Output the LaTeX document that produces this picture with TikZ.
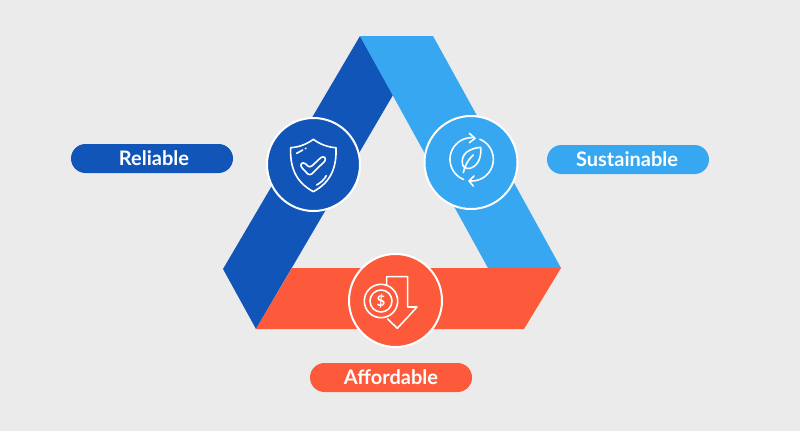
\documentclass[tikz,border=0pt]{standalone}
\usepackage{fontspec}
\setmainfont{Lato}[BoldFont=Lato Bold]
\definecolor{bgc}{HTML}{EBEBEB}
\definecolor{dkb}{HTML}{1155B8}
\definecolor{ltb}{HTML}{36A7F0}
\definecolor{org}{HTML}{FC5A3A}
\tikzset{
  hub/.style={circle,draw=white,line width=2pt,minimum size=93pt,inner sep=0pt},
  pill/.style={rectangle,rounded corners=14.5pt,minimum width=162pt,minimum height=29pt,inner sep=0pt,text=white,font=\fontsize{20}{22}\selectfont\bfseries},
  ico/.style={draw=white,line width=1.6pt,line cap=round,line join=round},
  zoomed/.style={x=0.3333pt,y=-0.3333pt}
}
\begin{document}
\begin{tikzpicture}[x=1pt,y=-1pt]
\fill[bgc] (0,0) rectangle (800,431);
\useasboundingbox (0,0) rectangle (800,431);
% bands
\fill[dkb] (360,36) -- (223,269) -- (256,329) -- (393,95) -- cycle;
\fill[ltb] (360,36) -- (433,36) -- (561,268) -- (488,268) -- cycle;
\fill[org] (292,268) -- (561,268) -- (524,329) -- (256,329) -- cycle;
% hubs
\node[hub,fill=dkb] (hubR) at (313.5,164.5) {};
\node[hub,fill=ltb] (hubS) at (471,162.5) {};
\node[hub,fill=org] (hubA) at (395.5,300.5) {};
% pills
\node[pill,fill=dkb] (pillR) at (152,158.5) {\hspace*{4pt}Reliable};
\node[pill,fill=ltb] (pillS) at (628,159.5) {Sustainable\hspace*{2pt}};
\node[pill,fill=org] (pillA) at (391,377.5) {Affordable};
% shield icon
\begin{scope}[shift={(250,100)},zoomed]
\draw[ico] (190,118) .. controls (170,133) and (145,142) .. (122,143)
  .. controls (120,200) and (135,245) .. (190,275)
  .. controls (245,245) and (260,200) .. (258,143)
  .. controls (235,142) and (210,133) .. (190,118) -- cycle;
\draw[ico] (140,160) -- (158,150);
\draw[ico] (166,146) -- (168,145);
\draw[ico] (200,255) .. controls (212,248) and (222,240) .. (229,227);
\draw[ico,rounded corners=3pt] (149,196) -- (160,185) -- (179,204) -- (219,167) -- (230,178) -- (179,228) -- cycle;
\end{scope}
% recycle leaf icon
\begin{scope}[shift={(410,100)},zoomed]
\draw[ico] plot[domain=112:272,samples=40] ({185+65*cos(\x)},{178+65*sin(\x)});
\draw[ico] plot[domain=-68:96,samples=40] ({185+65*cos(\x)},{178+65*sin(\x)});
\draw[ico] (178,100) -- (195,115) -- (178,128);
\draw[ico] (192,228) -- (177,243) -- (190,258);
\draw[ico] (212,142) .. controls (180,145) and (150,160) .. (158,195)
  .. controls (160,202) and (170,207) .. (180,205)
  .. controls (205,198) and (215,170) .. (212,142) -- cycle;
\draw[ico] (160,218) .. controls (165,195) and (175,178) .. (190,165);
\end{scope}
% coin and arrow icon
\begin{scope}[shift={(335,245)},zoomed]
\draw[ico] (155,118) -- (155,95) -- (218,95) -- (218,186) -- (246,186) -- (187,250) -- (158,222);
\coordinate (coinc) at (138,168);
\draw[ico] (coinc) circle[radius=16.7pt];
\draw[ico] (coinc) circle[radius=11pt];
\node[text=white,font=\fontsize{15}{15}\selectfont\bfseries,inner sep=0pt] (coinT) at (coinc) {\$};
\end{scope}
\end{tikzpicture}
\end{document}
